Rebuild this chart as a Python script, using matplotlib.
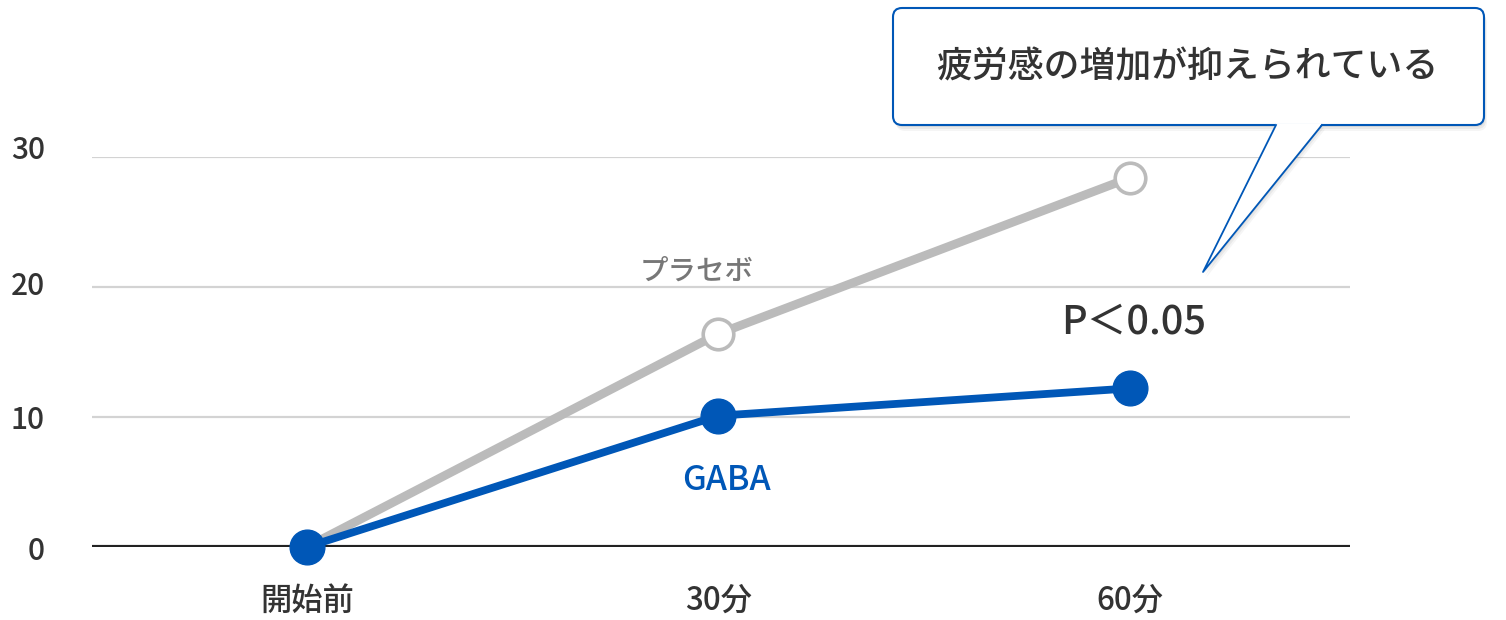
import matplotlib
matplotlib.use("Agg")
import matplotlib.pyplot as plt
from matplotlib.patches import FancyBboxPatch, Polygon
from matplotlib.transforms import ScaledTranslation

plt.rcParams['font.family'] = ['Noto Sans CJK JP', 'DejaVu Sans']
plt.rcParams['font.weight'] = 'medium'

# data
timepoints = ["開始前", "30分", "60分"]
gaba = [0, 10.1, 12.2]
placebo = [0, 16.4, 28.4]
yticks = [0, 10, 20, 30]

BLUE = "#0057b7"
GRAY = "#bbbbbb"
TEXT = "#333333"

W, H = 1506, 620
fig = plt.figure(figsize=(W / 100, H / 100), dpi=100)

# main axes: left edge 92px, right 1350px, y=0 at 547px, y=30 at 157px
ax = fig.add_axes([92 / W, (H - 547) / H, (1350 - 92) / W, 390 / H])
x = list(range(len(timepoints)))
ax.set_xlim(-0.522, 2.535)
ax.set_ylim(0, 30)

for s in ax.spines.values():
    s.set_visible(False)
for yv in yticks[1:]:
    ax.axhline(yv, color="#d3d3d3", lw=1.6, zorder=1)
ax.axhline(0, color="#222222", lw=3.0, zorder=2)

ax.plot(x, placebo, color=GRAY, lw=6.3, marker="o", ms=22, mfc="white",
        mec=GRAY, mew=2.6, zorder=3, clip_on=False, solid_capstyle="round")
ax.plot(x, gaba, color=BLUE, lw=5.6, marker="o", ms=25, mfc=BLUE,
        mec=BLUE, zorder=4, clip_on=False, solid_capstyle="round")

ax.set_yticks(yticks)
ax.set_yticklabels([str(v) for v in yticks], fontsize=21.5, color=TEXT)
ax.set_xticks(x)
ax.set_xticklabels(timepoints, fontsize=22.5, color=TEXT)
ax.tick_params(axis="y", length=0, pad=34)
ax.tick_params(axis="x", length=0, pad=27)

# the reference labels sit a little above their gridlines toward the top
for lab, dy in zip(ax.get_yticklabels(), [-1, 0, 4, 10]):
    lab.set_transform(lab.get_transform() + ScaledTranslation(0, dy / 100, fig.dpi_scale_trans))

ax.text(0.948, 21.2, "プラセボ", color="#777777", fontsize=20.5, ha="center", va="center")
ax.text(1.02, 5.1, "GABA", color=BLUE, fontsize=24.5, ha="center", va="center")
ax.text(2.01, 17.3, "P＜0.05", color=TEXT, fontsize=28.5, ha="center", va="center")

# callout bubble in pixel coordinates
ov = fig.add_axes([0, 0, 1, 1])
ov.set_xlim(0, W)
ov.set_ylim(H, 0)
ov.axis("off")

bx0, by0, bx1, by1 = 893, 8, 1484, 125
tail = [(1276, by1 - 1.5), (1203, 272), (1322, by1 - 1.5)]

# soft shadow
for off, a in [(6, 0.04), (4, 0.05), (2, 0.06)]:
    ov.add_patch(FancyBboxPatch((bx0 + off / 2, by0 + off), bx1 - bx0, by1 - by0,
                                boxstyle="round,pad=0,rounding_size=9",
                                fc="black", ec="none", alpha=a, zorder=1))
    ov.add_patch(Polygon([(px + off / 2, py + off) for px, py in tail],
                         closed=True, fc="black", ec="none", alpha=a, zorder=1))

ov.add_patch(FancyBboxPatch((bx0, by0), bx1 - bx0, by1 - by0,
                            boxstyle="round,pad=0,rounding_size=9",
                            fc="white", ec=BLUE, lw=1.5, zorder=2))
ov.add_patch(Polygon(tail, closed=True, fc="white", ec="none", zorder=3))
ov.plot([tail[0][0], tail[1][0], tail[2][0]], [by1, tail[1][1], by1],
        color=BLUE, lw=1.3, zorder=4)
ov.text((bx0 + bx1) / 2 - 1, 67, "疲労感の増加が抑えられている", color=TEXT,
        fontsize=25.8, ha="center", va="center", zorder=5)

fig.savefig("out.png", dpi=100)
